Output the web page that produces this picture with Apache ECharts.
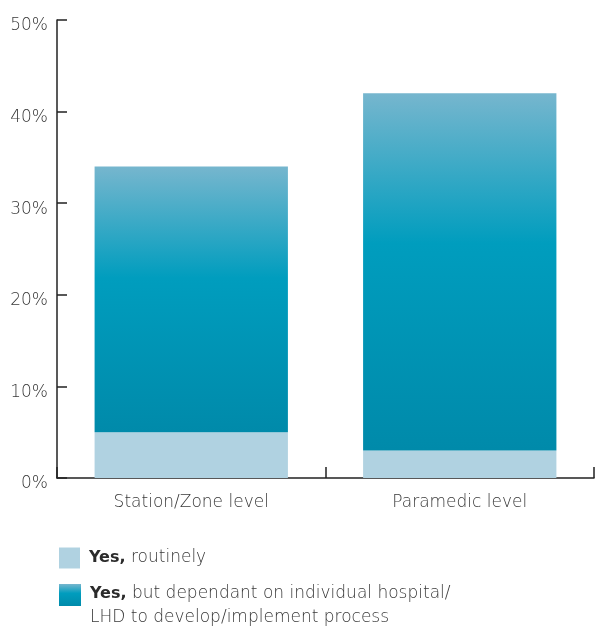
<!DOCTYPE html>
<html>
<head>
<meta charset="utf-8">
<script src="https://cdn.jsdelivr.net/npm/echarts@6/dist/echarts.min.js"></script>
<style>
  html, body { margin: 0; padding: 0; background: #fff; }
  #chart { width: 595px; height: 628px; }
</style>
</head>
<body>
<div id="chart"></div>
<script>
// Share of respondents by level
const categories = ['Station/Zone level', 'Paramedic level'];
const routinely = [5, 3];
const dependant = [29, 39];
const yTicks = [0, 10, 20, 30, 40, 50];

const FONT = 'DejaVu Sans';
const TEXT = '#383838';
const SIZE = 17;
const WEIGHT = 200;

const chart = echarts.init(document.getElementById('chart'));

const blueGradient = {
  type: 'linear', x: 0, y: 0, x2: 0, y2: 1,
  colorStops: [
    { offset: 0, color: '#76b6ce' },
    { offset: 0.42, color: '#009dbe' },
    { offset: 1, color: '#008aaa' }
  ]
};

const legendText = {
  fontFamily: FONT,
  fontSize: SIZE,
  fontWeight: WEIGHT,
  color: TEXT,
  lineHeight: 24,
  rich: {
    b: { fontFamily: FONT, fontSize: 16, fontWeight: 'bold', color: '#2b2b2b', lineHeight: 24 }
  }
};

function legendLabel(name) {
  if (name === 'routinely') return '{b|Yes,} routinely';
  return '{b|Yes,} but dependant on individual hospital/\nLHD to develop/implement process';
}

chart.setOption({
  animation: false,
  textStyle: { fontFamily: FONT },
  grid: { left: 57, right: 1, top: 20, bottom: 150 },
  legend: [
    {
      left: 59, top: 546, padding: 0,
      itemWidth: 21, itemHeight: 21, itemGap: 9,
      icon: 'rect', selectedMode: false,
      textStyle: legendText,
      data: [{ name: 'routinely', textStyle: { padding: [0, 0, 0, 4] } }],
      formatter: legendLabel
    },
    {
      left: 59, top: 560, padding: 0,
      itemWidth: 22, itemHeight: 22, itemGap: 8,
      icon: 'rect', selectedMode: false,
      textStyle: legendText,
      data: [{ name: 'dependant', textStyle: { padding: [22, 0, 0, 4] } }],
      formatter: legendLabel
    }
  ],
  xAxis: {
    type: 'category',
    data: categories,
    axisLine: { lineStyle: { color: '#222', width: 1.5 } },
    axisTick: { show: true, inside: true, length: 11, lineStyle: { color: '#222', width: 1.5 } },
    axisLabel: { color: TEXT, fontSize: SIZE, fontWeight: WEIGHT, margin: 16, fontFamily: FONT }
  },
  yAxis: {
    type: 'value',
    min: 0,
    max: 50,
    interval: 10,
    splitLine: { show: false },
    axisLine: { show: true, lineStyle: { color: '#222', width: 1.5 } },
    axisTick: { show: true, inside: true, length: 10, lineStyle: { color: '#222', width: 1.5 } },
    axisLabel: {
      color: TEXT, fontSize: SIZE, fontWeight: WEIGHT, margin: 9, fontFamily: FONT,
      verticalAlign: 'top', lineHeight: 12,
      formatter: function (v) { return yTicks.indexOf(v) >= 0 ? v + '%' : ''; }
    }
  },
  series: [
    {
      name: 'routinely',
      type: 'bar',
      stack: 'total',
      barWidth: '72%',
      data: routinely,
      itemStyle: { color: '#b0d2e1' }
    },
    {
      name: 'dependant',
      type: 'bar',
      stack: 'total',
      barWidth: '72%',
      data: dependant,
      itemStyle: { color: blueGradient }
    }
  ]
});
</script>
</body>
</html>
